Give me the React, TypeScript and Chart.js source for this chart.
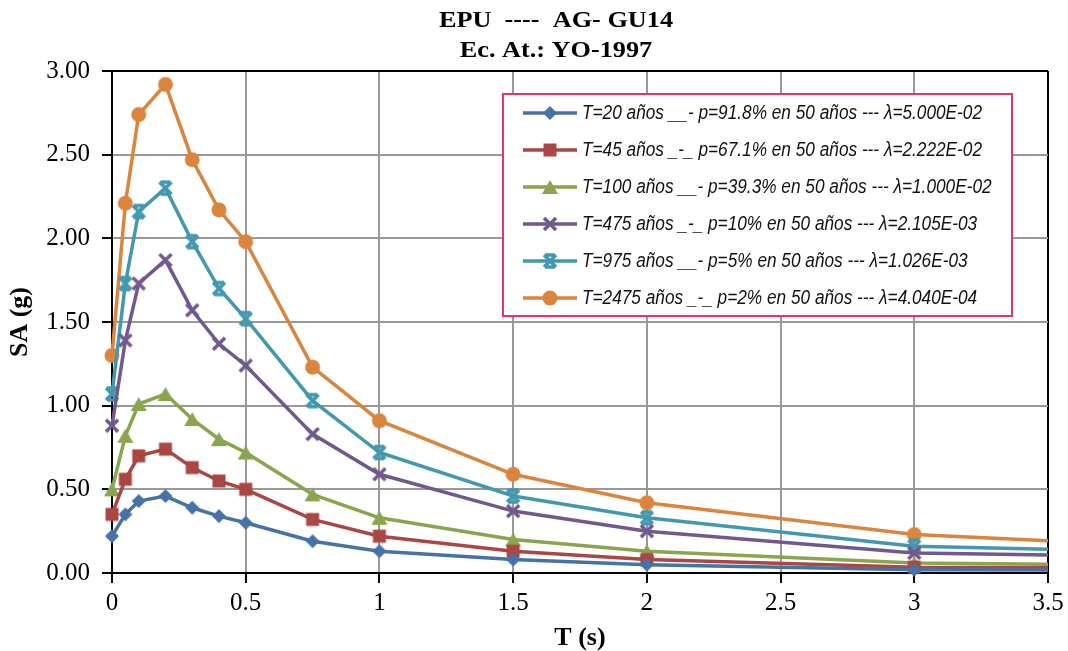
import React, { useEffect, useRef } from 'react';
import { Chart, registerables } from 'chart.js';

Chart.register(...registerables);

// ---- data ----
const periods = [0, 0.05, 0.1, 0.2, 0.3, 0.4, 0.5, 0.75, 1, 1.5, 2, 3, 3.5];
const sa20 = [0.22, 0.35, 0.43, 0.46, 0.39, 0.34, 0.30, 0.19, 0.13, 0.08, 0.05, 0.02, 0.018];
const sa45 = [0.35, 0.56, 0.70, 0.74, 0.63, 0.55, 0.50, 0.32, 0.22, 0.13, 0.08, 0.035, 0.032];
const sa100 = [0.50, 0.82, 1.01, 1.07, 0.92, 0.80, 0.72, 0.47, 0.33, 0.20, 0.13, 0.06, 0.052];
const sa475 = [0.88, 1.39, 1.73, 1.87, 1.57, 1.37, 1.24, 0.83, 0.59, 0.37, 0.25, 0.12, 0.108];
const sa975 = [1.07, 1.73, 2.16, 2.30, 1.98, 1.70, 1.52, 1.03, 0.72, 0.46, 0.33, 0.16, 0.142];
const sa2475 = [1.30, 2.21, 2.74, 2.92, 2.47, 2.17, 1.98, 1.23, 0.91, 0.59, 0.42, 0.23, 0.193];

const seriesValues = [sa20, sa45, sa100, sa475, sa975, sa2475];
const seriesLabels = [
  'T=20 años __- p=91.8% en 50 años --- λ=5.000E-02',
  'T=45 años _-_ p=67.1% en 50 años --- λ=2.222E-02',
  'T=100 años __- p=39.3% en 50 años --- λ=1.000E-02',
  'T=475 años _-_ p=10% en 50 años --- λ=2.105E-03',
  'T=975 años __- p=5% en 50 años --- λ=1.026E-03',
  'T=2475 años _-_ p=2% en 50 años --- λ=4.040E-04',
];
const seriesColors = ['#4572A7', '#AA4643', '#89A54E', '#71588F', '#4198AF', '#DB843D'];
const seriesMarkers = ['diamond', 'square', 'triangle', 'x', 'star', 'circle'];

const titleLines = ['EPU  ----  AG- GU14', 'Ec. At.: YO-1997'];
const yTicks = [0, 0.5, 1, 1.5, 2, 2.5, 3];
const xTitle = 'T (s)';
const yTitle = 'SA (g)';

function drawMarker(ctx: CanvasRenderingContext2D, kind: string, color: string, cx: number, cy: number) {
  ctx.save();
  ctx.fillStyle = color;
  ctx.strokeStyle = color;
  ctx.lineCap = 'butt';
  ctx.beginPath();
  if (kind === 'diamond') {
    ctx.moveTo(cx, cy - 7);
    ctx.lineTo(cx + 7, cy);
    ctx.lineTo(cx, cy + 7);
    ctx.lineTo(cx - 7, cy);
    ctx.closePath();
    ctx.fill();
  } else if (kind === 'square') {
    ctx.rect(cx - 6.5, cy - 6.5, 13, 13);
    ctx.fill();
  } else if (kind === 'triangle') {
    ctx.moveTo(cx, cy - 7);
    ctx.lineTo(cx + 8, cy + 7);
    ctx.lineTo(cx - 8, cy + 7);
    ctx.closePath();
    ctx.fill();
  } else if (kind === 'x') {
    ctx.lineWidth = 3.5;
    ctx.moveTo(cx - 6, cy - 6);
    ctx.lineTo(cx + 6, cy + 6);
    ctx.moveTo(cx + 6, cy - 6);
    ctx.lineTo(cx - 6, cy + 6);
    ctx.stroke();
  } else if (kind === 'star') {
    ctx.lineWidth = 3.5;
    ctx.moveTo(cx - 6, cy - 6);
    ctx.lineTo(cx + 6, cy + 6);
    ctx.moveTo(cx + 6, cy - 6);
    ctx.lineTo(cx - 6, cy + 6);
    ctx.moveTo(cx - 5, cy - 6);
    ctx.lineTo(cx + 5, cy - 6);
    ctx.moveTo(cx - 5, cy + 6);
    ctx.lineTo(cx + 5, cy + 6);
    ctx.stroke();
  } else {
    ctx.arc(cx, cy, 7.5, 0, Math.PI * 2);
    ctx.fill();
  }
  ctx.restore();
}

function makeMarkerImage(kind: string, color: string): HTMLCanvasElement {
  const c = document.createElement('canvas');
  c.width = 20;
  c.height = 20;
  const ctx = c.getContext('2d')!;
  drawMarker(ctx, kind, color, 10, 10);
  return c;
}

// draw text horizontally scaled (Excel-like rendering of the reference fonts)
function fillScaled(ctx: CanvasRenderingContext2D, text: string, x: number, y: number, sx: number) {
  ctx.save();
  ctx.translate(x, y);
  ctx.scale(sx, 1);
  ctx.fillText(text, 0, 0);
  ctx.restore();
}

const titlePlugin = {
  id: 'excelTitle',
  afterDraw(chart: any) {
    const ctx = chart.ctx as CanvasRenderingContext2D;
    ctx.save();
    ctx.fillStyle = '#000';
    ctx.font = 'bold 23px "Liberation Serif", "Times New Roman", serif';
    ctx.textAlign = 'center';
    ctx.textBaseline = 'alphabetic';
    const w = ctx.measureText(titleLines[0]).width;
    const sx = 234 / w;
    fillScaled(ctx, titleLines[0], 556, 27, sx);
    fillScaled(ctx, titleLines[1], 556, 57, sx);
    ctx.restore();
  },
};

const legendPlugin = {
  id: 'excelLegend',
  afterDatasetsDraw(chart: any) {
    const ctx = chart.ctx as CanvasRenderingContext2D;
    const bx = 503, by = 94, bw = 509, bh = 222;
    ctx.save();
    ctx.fillStyle = '#fff';
    ctx.fillRect(bx, by, bw, bh);
    ctx.strokeStyle = '#E6326E';
    ctx.lineWidth = 2;
    ctx.strokeRect(bx, by, bw, bh);
    ctx.font = 'italic 19.5px "Liberation Sans", Arial, sans-serif';
    ctx.textBaseline = 'middle';
    ctx.textAlign = 'left';
    const w0 = ctx.measureText(seriesLabels[0]).width;
    const sx = 400 / w0;
    seriesLabels.forEach((label, i) => {
      const y = 113 + i * 37;
      ctx.strokeStyle = seriesColors[i];
      ctx.lineWidth = 3.5;
      ctx.beginPath();
      ctx.moveTo(523, y);
      ctx.lineTo(577, y);
      ctx.stroke();
      drawMarker(ctx, seriesMarkers[i], seriesColors[i], 550, y);
      ctx.fillStyle = '#111';
      fillScaled(ctx, label, 582, y + 1, sx);
    });
    ctx.restore();
  },
};

export default function App() {
  const canvasRef = useRef<HTMLCanvasElement | null>(null);

  useEffect(() => {
    if (!canvasRef.current) return;
    const lastIdx = periods.length - 1;
    const datasets = seriesValues.map((vals, i) => ({
      label: seriesLabels[i],
      data: periods.map((t, j) => ({ x: t, y: vals[j] })),
      borderColor: seriesColors[i],
      backgroundColor: seriesColors[i],
      borderWidth: 3.5,
      pointStyle: makeMarkerImage(seriesMarkers[i], seriesColors[i]),
      pointRadius: (c: any) => (c.dataIndex === lastIdx ? 0 : 6),
      tension: 0,
      clip: false as any,
    }));

    const serif = '"Liberation Serif", "Times New Roman", serif';

    const chart = new Chart(canvasRef.current, {
      type: 'line',
      data: { datasets },
      options: {
        animation: false,
        responsive: false,
        events: [],
        layout: { padding: { top: 71, right: 20, bottom: 0, left: 0 } },
        plugins: {
          legend: { display: false },
          title: { display: false },
          tooltip: { enabled: false },
        },
        scales: {
          x: {
            type: 'linear',
            min: 0,
            max: 3.5,
            ticks: {
              stepSize: 0.5,
              color: '#000',
              padding: 5,
              font: { family: serif, size: 25 },
              callback: (v: any) => String(Number(v)),
            },
            grid: {
              color: (c: any) => (c.tick && c.tick.value === 3.5 ? '#000' : '#999'),
              lineWidth: 2,
              tickLength: 10,
              tickColor: '#000',
            },
            border: { color: '#000', width: 2 },
            title: {
              display: true,
              text: xTitle,
              color: '#000',
              font: { family: serif, size: 26, weight: 'bold', lineHeight: 1 },
              padding: { top: 0, bottom: 0 },
            },
            afterFit: (s: any) => {
              s.height = 78;
              s.paddingLeft = 0;
              s.paddingRight = 0;
            },
          },
          y: {
            type: 'linear',
            min: 0,
            max: 3,
            afterBuildTicks: (s: any) => {
              s.ticks = yTicks.map((v) => ({ value: v }));
            },
            ticks: {
              color: '#000',
              padding: 12,
              font: { family: serif, size: 25 },
              callback: (v: any) => Number(v).toFixed(2),
            },
            grid: {
              color: (c: any) => (c.tick && c.tick.value === 3 ? '#000' : '#999'),
              lineWidth: 2,
              tickLength: 10,
              tickColor: '#000',
            },
            border: { color: '#000', width: 2 },
            title: {
              display: true,
              text: yTitle,
              color: '#000',
              font: { family: serif, size: 26, weight: 'bold', lineHeight: 1 },
              padding: { top: 7, bottom: 0 },
            },
            afterFit: (s: any) => {
              s.width = 112;
              s.paddingTop = 0;
              s.paddingBottom = 0;
            },
          },
        },
      },
      plugins: [legendPlugin, titlePlugin],
    });
    return () => chart.destroy();
  }, []);

  return (
    <div style={{ position: 'absolute', left: 0, top: 0, width: 1068, height: 651, background: '#fff' }}>
      <canvas ref={canvasRef} width={1068} height={651} style={{ display: 'block' }} />
    </div>
  );
}
